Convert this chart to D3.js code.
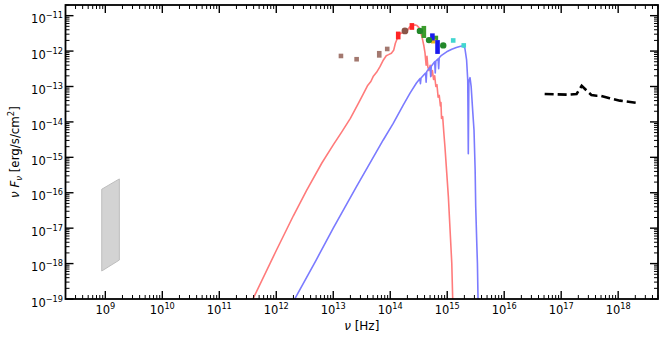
<!DOCTYPE html>
<html><head><meta charset="utf-8">
<script src="https://cdn.jsdelivr.net/npm/d3@7"></script>
<style>body{margin:0;background:#fff} text{font-family:"DejaVu Sans",sans-serif;fill:#000}</style>
</head><body><svg id="c" width="664" height="339"></svg>
<script>
// ---- data (log10 nu [Hz], log10 nuFnu [erg/s/cm2]) ----
const xDomain = [2e8, 5e18];
const yDomain = [1e-19, 2e-11];
const xTickExps = [9,10,11,12,13,14,15,16,17,18];
const yTickExps = [-19,-18,-17,-16,-15,-14,-13,-12,-11];

const redModel = [[11.50,-19.30],[11.60,-18.97],[12.00,-17.63],[12.30,-16.65],[12.53,-15.94],[12.80,-15.16],[13.00,-14.65],[13.15,-14.28],[13.30,-13.90],[13.45,-13.45],[13.53,-13.20],[13.60,-12.98],[13.66,-12.86],[13.70,-12.72],[13.76,-12.60],[13.82,-12.44],[13.88,-12.25],[13.93,-12.13],[13.97,-12.10],[14.02,-12.06],[14.06,-11.98],[14.09,-11.78],[14.12,-11.66],[14.15,-11.55],[14.18,-11.50],[14.22,-11.48],[14.26,-11.44],[14.30,-11.42],[14.34,-11.32],[14.38,-11.30],[14.43,-11.26],[14.47,-11.28],[14.50,-11.33],[14.53,-11.45],[14.56,-11.62],[14.59,-11.85],[14.61,-12.05],[14.63,-12.40],[14.645,-12.15],[14.66,-12.45],[14.68,-12.55],[14.70,-12.40],[14.72,-12.70],[14.74,-12.55],[14.76,-12.80],[14.78,-12.70],[14.80,-13.00],[14.82,-12.95],[14.84,-13.30],[14.86,-13.25],[14.88,-13.55],[14.89,-13.45],[14.90,-13.90],[14.92,-13.85],[14.94,-14.30],[14.96,-14.70],[14.98,-15.17],[15.02,-16.11],[15.05,-17.05],[15.08,-17.99],[15.095,-18.93],[15.10,-19.30]];

const blueModel = [[12.28,-19.30],[12.33,-18.98],[12.70,-17.90],[13.00,-17.00],[13.40,-15.85],[13.877,-14.51],[14.05,-14.05],[14.23,-13.52],[14.35,-13.18],[14.46,-12.90],[14.52,-12.78],[14.53,-12.92],[14.54,-12.76],[14.62,-12.62],[14.63,-12.88],[14.64,-12.58],[14.70,-12.45],[14.71,-12.72],[14.72,-12.43],[14.78,-12.30],[14.79,-12.62],[14.80,-12.28],[14.84,-12.22],[14.85,-12.50],[14.86,-12.19],[14.90,-12.12],[14.99,-12.02],[15.08,-11.95],[15.16,-11.90],[15.22,-11.87],[15.28,-11.85],[15.31,-11.92],[15.34,-12.25],[15.36,-12.82],[15.37,-14.90],[15.38,-12.85],[15.40,-12.75],[15.42,-13.00],[15.45,-13.76],[15.47,-14.23],[15.49,-15.36],[15.50,-16.39],[15.52,-17.50],[15.53,-17.99],[15.54,-18.93],[15.545,-19.30]];

const xrayModel = [[16.71,-13.21],[17.12,-13.23],[17.27,-13.21],[17.36,-12.98],[17.45,-13.12],[17.53,-13.24],[17.62,-13.26],[17.68,-13.26],[17.85,-13.33],[18.03,-13.40],[18.32,-13.46]];

// radio band: [log nu, log lo, log hi]
const radioBand = [[8.937,-18.21,-15.90],[9.246,-17.90,-15.61]];

// photometry: [log nu, log lo, log hi]
const brownPts = [[13.135,-12.138,-12.138],[13.41,-12.23,-12.23],[13.807,-12.186,-11.996],[13.947,-11.94,-11.94]];
const redPts = [[14.14,-11.67,-11.45],[14.38,-11.40,-11.21]];
const greenPts = [[14.59,-11.63,-11.29],[14.80,-11.63,-11.63]];
const bluePts = [[14.74,-11.70,-11.50],[14.83,-12.08,-11.69]];
const orangePts = [[14.755,-11.72,-11.72]];
const cyanPts = [[15.105,-11.70,-11.70],[15.29,-11.84,-11.84]];
const brownCircles = [[14.258,-11.43]];
const greenCircles = [[14.52,-11.43],[14.68,-11.69],[14.93,-11.84]];

// ---- drawing ----
const P = {l:65.5, r:658, t:5, b:299};
const svg = d3.select("#c");
const x = d3.scaleLog().domain(xDomain).range([P.l, P.r]);
const y = d3.scaleLog().domain(yDomain).range([P.b, P.t]);
const e = v => Math.pow(10, v);

svg.append("clipPath").attr("id","clip").append("rect")
  .attr("x",P.l).attr("y",P.t).attr("width",P.r-P.l).attr("height",P.b-P.t);
const g = svg.append("g").attr("clip-path","url(#clip)");

// radio band
const bandPts = radioBand.map(d=>[x(e(d[0])), y(e(d[2]))]).concat(radioBand.slice().reverse().map(d=>[x(e(d[0])), y(e(d[1]))]));
g.append("polygon").attr("points", bandPts.map(p=>p.join(",")).join(" "))
  .attr("fill","#d3d3d3").attr("stroke","#bdbdbd").attr("stroke-width",1);

const line = d3.line().x(d=>x(e(d[0]))).y(d=>y(e(d[1])));
g.append("path").datum(redModel).attr("d",line).attr("fill","none")
  .attr("stroke","#ff7b7b").attr("stroke-width",1.6).attr("stroke-linejoin","round");
g.append("path").datum(blueModel).attr("d",line).attr("fill","none")
  .attr("stroke","#7b7bff").attr("stroke-width",1.6).attr("stroke-linejoin","round");
g.append("path").datum(xrayModel).attr("d",line).attr("fill","none")
  .attr("stroke","#000").attr("stroke-width",2.6).attr("stroke-dasharray","9,4");

function rects(data, color){
  const w = 4.6;
  g.selectAll(null).data(data).enter().append("rect")
    .attr("x", d=>x(e(d[0]))-w/2)
    .attr("y", d=>{const y1=y(e(d[2])), y0=y(e(d[1])); const h=Math.max(w,y0-y1); return (y0+y1)/2-h/2;})
    .attr("width", w)
    .attr("height", d=>Math.max(w, y(e(d[1]))-y(e(d[2]))))
    .attr("fill", color);
}
function circles(data, color, r){
  g.selectAll(null).data(data).enter().append("circle")
    .attr("cx", d=>x(e(d[0]))).attr("cy", d=>y(e(d[1]))).attr("r", r)
    .attr("fill", color);
}
rects(brownPts, "#a3786f");
rects(redPts, "#ff2424");
circles(brownCircles, "#8a5548", 3.4);
rects(greenPts, "#3c9c2c");
rects(orangePts, "#e8b420");
rects(bluePts, "#1a1aee");
circles(greenCircles, "#23882a", 3.2);
rects(cyanPts, "#42d6d0");

// ---- axes / frame ----
const ax = svg.append("g").attr("stroke","#000");
const xMinor = [], yMinor = [];
for (let p=8;p<=18;p++) for (let m=2;m<=9;m++){ const v=m*e(p); if (v>=xDomain[0]&&v<=xDomain[1]) xMinor.push(v); }
for (let p=-19;p<=-11;p++) for (let m=2;m<=9;m++){ const v=m*e(p); if (v>=yDomain[0]&&v<=yDomain[1]) yMinor.push(v); }
const MJ=8, MN=4;
xMinor.forEach(v=>{ const X=x(v);
  ax.append("line").attr("x1",X).attr("x2",X).attr("y1",P.b).attr("y2",P.b-MN).attr("stroke-width",1);
  ax.append("line").attr("x1",X).attr("x2",X).attr("y1",P.t).attr("y2",P.t+MN).attr("stroke-width",1);});
xTickExps.forEach(p=>{ const X=x(e(p));
  ax.append("line").attr("x1",X).attr("x2",X).attr("y1",P.b).attr("y2",P.b-MJ).attr("stroke-width",1.4);
  ax.append("line").attr("x1",X).attr("x2",X).attr("y1",P.t).attr("y2",P.t+MJ).attr("stroke-width",1.4);});
yMinor.forEach(v=>{ const Y=y(v);
  ax.append("line").attr("y1",Y).attr("y2",Y).attr("x1",P.l).attr("x2",P.l+MN).attr("stroke-width",1);
  ax.append("line").attr("y1",Y).attr("y2",Y).attr("x1",P.r).attr("x2",P.r-MN).attr("stroke-width",1);});
yTickExps.forEach(p=>{ const Y=y(e(p));
  ax.append("line").attr("y1",Y).attr("y2",Y).attr("x1",P.l).attr("x2",P.l+MJ).attr("stroke-width",1.4);
  ax.append("line").attr("y1",Y).attr("y2",Y).attr("x1",P.r).attr("x2",P.r-MJ).attr("stroke-width",1.4);});
svg.append("rect").attr("x",P.l).attr("y",P.t).attr("width",P.r-P.l).attr("height",P.b-P.t)
  .attr("fill","none").attr("stroke","#000").attr("stroke-width",1.8);

const minus = "\u2212";
xTickExps.forEach(p=>{
  const t = svg.append("text").attr("x", x(e(p))).attr("y", 313.5).attr("text-anchor","middle").attr("font-size",11.5);
  t.append("tspan").text("10");
  t.append("tspan").attr("dy",-5).attr("font-size",8.2).text(String(p));
});
yTickExps.forEach(p=>{
  const t = svg.append("text").attr("x", 63).attr("y", y(e(p))+7.6).attr("text-anchor","end").attr("font-size",11.5);
  t.append("tspan").text("10");
  t.append("tspan").attr("dy",-5).attr("font-size",8.2).text(minus+String(-p));
});

const xl = svg.append("text").attr("x",(P.l+P.r)/2).attr("y",330).attr("text-anchor","middle").attr("font-size",12);
xl.append("tspan").attr("font-style","italic").text("\u03bd");
xl.append("tspan").text(" [Hz]");

const yl = svg.append("text").attr("transform",`translate(19,${(P.t+P.b)/2}) rotate(-90)`).attr("text-anchor","middle").attr("font-size",11.8);
yl.append("tspan").attr("font-style","italic").text("\u03bd F");
yl.append("tspan").attr("font-style","italic").attr("font-size",8.5).attr("dy",3).text("\u03bd");
yl.append("tspan").attr("dy",-3).text(" [erg/s/cm");
yl.append("tspan").attr("font-size",8.5).attr("dy",-5).text("2");
yl.append("tspan").attr("dy",5).text("]");
</script></body></html>
